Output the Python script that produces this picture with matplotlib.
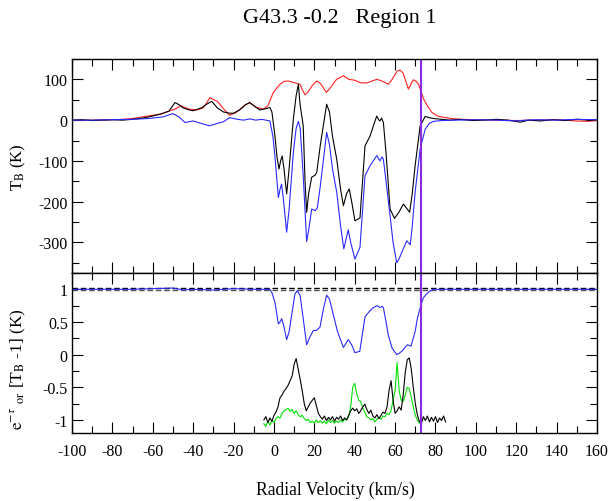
import numpy as np
import matplotlib
matplotlib.use("Agg")
import matplotlib.pyplot as plt
from matplotlib.ticker import MultipleLocator, FixedLocator

plt.rcParams['font.family'] = ['Liberation Serif', 'DejaVu Serif']
plt.rcParams['mathtext.fontset'] = 'stix'
plt.rcParams['axes.unicode_minus'] = False

# ---- upper panel: brightness temperature (K) ----
v_blue = [-100, -90, -80, -70, -62, -55, -50, -47, -44, -40, -36, -32, -28, -25, -22, -18, -15,
          -12, -9, -6, -2, -0.5, 0.5, 2.2, 3, 3.8, 4.6, 6.3, 7.5, 9.6, 11, 12.1, 13, 14.5, 16.2,
          17.2, 18.7, 20.4, 21.5, 23, 26.1, 27.5, 29, 31.1, 33, 34.6, 36.8, 38, 40.1, 42.6, 45.1,
          47.6, 50.9, 52.5, 53.5, 54.2, 55.5, 57.5, 59, 60.8, 62, 63.3, 65.8, 67.5, 68.5, 69.9,
          72.4, 74.9, 77, 79, 83, 90, 100, 110, 120, 125, 130, 140, 150, 160]
t_blue = [0, 0, 1, 2, 4, 8, 16, 8, -6, -2, -8, -14, -8, -4, 6, 2, 0,
          3, 0, 2, -2, -40, -90, -190, -170, -157, -190, -275, -220, -80, -20, -3, -20, -136, -298,
          -270, -218, -222, -215, -160, -30, -60, -120, -177, -260, -316, -269, -300, -341, -312, -136,
          -112, -87, -100, -90, -96, -150, -234, -300, -350, -340, -324, -296, -306, -260, -177,
          -71, -22, -8, -3, -1, 0, 1, 0, -2, 0, 1, 0, 2, 1]

v_black = [-100, -95, -90, -85, -80, -75, -70, -65, -60, -56, -52, -49, -47, -45, -42, -40, -36,
           -33, -30.8, -28, -25, -22, -20, -17, -14, -12, -9, -7, -4, -2, -1, 0.5, 1.5, 2.5, 3.3,
           4.1, 5, 6.3, 7.5, 9.6, 11, 12.1, 12.9, 14.5, 15.4, 16.2, 17.2, 18.7, 20.4, 21.2, 23,
           26.1, 27.5, 29, 31.1, 33, 34.4, 36, 37.3, 38.5, 40.1, 42.6, 45.1, 47.6, 49.5, 50.9, 52,
           52.5, 53.3, 54.2, 55.5, 57.5, 59.7, 62, 64.1, 65.5, 67.2, 68.5, 69.9, 72.4, 74.9, 77,
           79, 83, 87, 92, 98, 104, 110, 116, 122, 126, 132, 138, 144, 150, 156, 160]
t_black = [0, 1, -1, 0, 1, 0, 2, 5, 10, 15, 22, 43, 38, 30, 25, 23, 30,
           40, 46, 30, 20, 17, 17, 25, 38, 43, 32, 25, 28, 31, 20, -39, -90, -120, -100,
           -88, -120, -181, -120, 2, 60, 88, 40, -14, -150, -226, -180, -140, -135, -128, -60,
           39, 20, -40, -96, -170, -210, -180, -169, -200, -247, -240, -63, -39, -10, 10, 0,
           -2, 5, -6, -80, -218, -241, -225, -206, -215, -226, -180, -112, -14, 9, 6,
           4, 2, 0, 2, -1, 0, 2, 0, -5, 0, -2, 1, -1, 2, 0, 1]

v_red = [-100, -90, -80, -75, -70, -65, -60, -56, -52, -49, -46, -42, -38, -35, -31.7, -28, -25,
         -22, -19, -16.8, -14, -12, -9, -5.3, -3, -0.3, 3, 5, 7.1, 10, 12.9, 14, 15.4, 17, 19,
         21.2, 23, 26, 28, 31, 34.4, 37, 40, 42.6, 45.9, 48, 50.9, 53, 56.7, 58.5, 61, 62.4, 64,
         66.6, 68, 69, 70.5, 71.6, 72.5, 74.1, 76, 78.2, 81, 83.9, 88, 92.2, 100, 110, 120, 130,
         140, 150, 155, 160]
t_red = [0, 0, 1, 2, 4, 8, 12, 15, 22, 27, 35, 27, 25, 30, 55, 46, 28,
         12, 18, 27, 38, 43, 32, 27, 35, 68, 88, 95, 96, 92, 88, 75, 62, 70, 85,
         96, 90, 68, 80, 100, 109, 100, 98, 92, 91, 95, 100, 97, 88, 100, 120, 123, 115,
         76, 90, 99, 95, 88, 75, 52, 35, 19, 10, 7, 4, 2, 1, 0, -1, 0,
         1, -2, -3, -1]

# ---- lower panel: e^-tau and [T_B - 1] ----
v_tau = [-100, -90, -80, -70, -60, -50, -45, -40, -30, -20, -10, -2, -1, 0.5, 2.2, 3, 3.85, 4.8,
         6.3, 7.5, 9, 10.4, 11.6, 13, 14.5, 16.2, 17.5, 19.5, 21, 22.8, 24.5, 26.1, 27.5, 29.5,
         31.5, 34.4, 36.8, 38.5, 40.1, 42.5, 45.1, 47.5, 49.2, 51.2, 52.5, 53.5, 54.2, 55.5, 56.7,
         58.5, 60.8, 62, 63.3, 66, 67.9, 69.9, 71, 72.7, 74, 75.6, 77, 79, 85, 100, 120, 140, 160]
e_tau = [1.0, 1.0, 1.0, 1.0, 1.01, 1.02, 0.99, 1.0, 0.99, 1.01, 1.0, 1.0, 0.95, 0.8, 0.47, 0.5, 0.55, 0.45,
         0.23, 0.35, 0.65, 0.93, 0.98, 0.9, 0.55, 0.15, 0.25, 0.37, 0.37, 0.42, 0.7, 0.91, 0.85, 0.6,
         0.35, 0.11, 0.23, 0.15, 0.03, 0.05, 0.58, 0.67, 0.72, 0.75, 0.72, 0.74, 0.72, 0.5, 0.29,
         0.1, 0.0, 0.02, 0.05, 0.15, 0.13, 0.35, 0.55, 0.75, 0.87, 0.93, 0.97, 1.0, 1.0, 1.0, 1.0, 1.0, 1.0]

v_em1 = list(range(-5, 86))
em1_black = [-1.00, -0.95, -1.04, -0.97, -1.02, -0.93, -0.88, -0.80, -0.66, -0.62,
             -0.56, -0.52, -0.47, -0.40, -0.33, -0.15, -0.06, -0.22, -0.38, -0.55,
             -0.75, -0.86, -0.80, -0.74, -0.70, -0.66, -0.78, -0.90, -0.95, -0.99,
             -0.94, -1.01, -0.96, -1.00, -0.95, -1.02, -0.96, -0.99, -0.94, -1.01,
             -0.97, -1.00, -0.93, -0.86, -0.82, -0.86, -0.83, -0.90, -0.86, -0.80,
             -0.76, -0.84, -0.90, -0.85, -0.94, -0.97, -0.92, -0.98, -0.93, -0.88,
             -0.90, -0.80, -0.55, -0.40, -0.70, -0.90, -0.86, -0.80, -0.85, -0.62,
             -0.28, -0.08, -0.05, -0.22, -0.50, -0.75, -0.92, -1.02, -1.06, -0.95,
             -1.01, -0.94, -1.03, -0.96, -1.02, -0.95, -1.04, -0.97, -1.01, -0.94, -1.03]

v_em2 = list(range(-5, 73))
em1_green = [-1.06, -1.10, -1.02, -1.08, -1.01, -1.04, -0.98, -0.95, -0.97, -0.90,
             -0.86, -0.84, -0.82, -0.87, -0.84, -0.90, -0.86, -0.92, -0.95, -0.93,
             -0.98, -1.01, -0.99, -1.04, -1.02, -1.05, -1.00, -1.04, -1.01, -1.05,
             -1.02, -1.06, -1.00, -1.04, -1.01, -1.05, -1.02, -1.04, -1.00, -1.03,
             -0.99, -1.00, -0.95, -0.80, -0.50, -0.44, -0.60, -0.70, -0.72, -0.82,
             -0.88, -0.95, -0.97, -1.00, -0.98, -1.03, -0.99, -0.96, -0.99, -0.94,
             -0.95, -0.90, -0.92, -0.85, -0.70, -0.55, -0.12, -0.55, -0.70, -0.72,
             -0.62, -0.50, -0.52, -0.65, -0.80, -0.93, -1.00, -1.05]

tau_levels = [1.018, 0.985]
v_marker = 72.7

ytick_top = [-300, -200, -100, 0, 100]
ytick_low = [-1, -0.5, 0, 0.5, 1]
ytick_low_labels = ['-1', '-0.5', '0', '0.5', '1']
xticks = list(range(-100, 161, 20))

fig = plt.figure(figsize=(6.08, 5.02), dpi=100)
ax1 = fig.add_axes([0.1184, 0.4542, 0.8636, 0.4263])
ax2 = fig.add_axes([0.1184, 0.1355, 0.8636, 0.3187])

ax1.plot(v_red, t_red, color='#ff2020', lw=0.8)
ax1.plot(v_black, t_black, color='black', lw=0.8)
ax1.plot(v_blue, t_blue, color='#2a2aff', lw=0.8)
ax1.axvline(v_marker, color='#8a2be2', lw=1.5)
ax1.set_ylim(-375, 150)
ax1.yaxis.set_major_locator(FixedLocator(ytick_top))
ax1.yaxis.set_minor_locator(MultipleLocator(50))
ax1.tick_params(labelbottom=False)

ax2.axhline(tau_levels[0], color='black', lw=1.0, ls=(0, (4, 2)))
ax2.axhline(tau_levels[1], color='#555555', lw=1.0, ls=(0, (4, 2)))
ax2.plot(v_em2, em1_green, color='#00e000', lw=0.8)
ax2.plot(v_em1, em1_black, color='black', lw=0.8)
ax2.plot(v_tau, e_tau, color='#2a2aff', lw=0.8)
ax2.axvline(v_marker, color='#8a2be2', lw=1.5)
ax2.set_ylim(-1.2, 1.25)
ax2.yaxis.set_major_locator(FixedLocator(ytick_low))
ax2.set_yticklabels(ytick_low_labels)
ax2.yaxis.set_minor_locator(MultipleLocator(0.25))

for ax in (ax1, ax2):
    ax.set_xlim(-100, 160)
    ax.xaxis.set_major_locator(FixedLocator(xticks))
    ax.xaxis.set_minor_locator(MultipleLocator(10))
    ax.tick_params(which='both', direction='in', top=True, right=True, labelsize=11.5)
    ax.tick_params(which='major', length=8, width=0.8)
    ax.tick_params(which='minor', length=5, width=0.8)
    ax.tick_params(axis='y', pad=3)
    ax.tick_params(axis='x', pad=7)
    for s in ax.spines.values():
        s.set_linewidth(1.0)

fig.text(0.5592, 0.964, 'G43.3 -0.2   Region 1', ha='center', va='center', fontsize=16)
fig.text(0.551, 0.024, 'Radial Velocity (km/s)', ha='center', va='center', fontsize=12.7)
fig.text(0.030, 1 - 167 / 502, r'T$_{\mathrm{B}}$ (K)', rotation=90, ha='center', va='center', fontsize=12)
fig.text(0.030, 1 - 369 / 502, r'$\mathrm{e}^{-\tau}$ $_{\mathrm{or}}$ [T$_{\mathrm{B}}$ -1] (K)',
         rotation=90, ha='center', va='center', fontsize=12.5)

plt.savefig('out.png', dpi=100)
